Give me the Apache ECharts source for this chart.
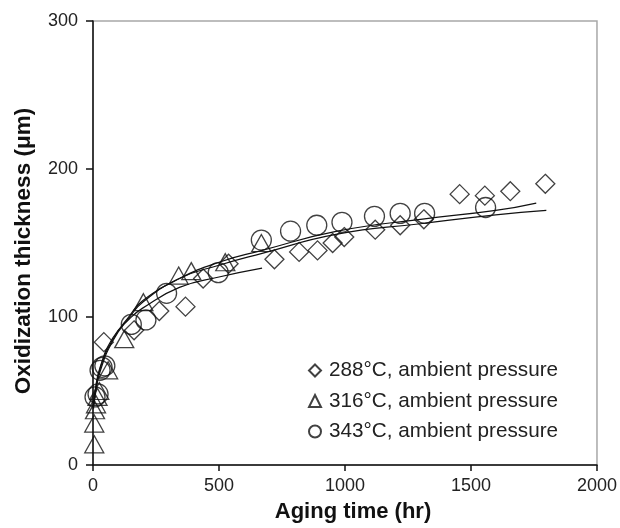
<!DOCTYPE html>
<html>
<head>
<meta charset="utf-8">
<script src="https://cdn.jsdelivr.net/npm/echarts@6/dist/echarts.min.js"></script>
<style>
html,body{margin:0;padding:0;background:#fff;}
#chart{width:620px;height:528px;}
</style>
</head>
<body>
<div id="chart"></div>
<script>
// ---- data ----
const xTicks = [0, 500, 1000, 1500, 2000];
const yTicks = [0, 100, 200, 300];

const names = ['288°C, ambient pressure', '316°C, ambient pressure', '343°C, ambient pressure'];

// 288°C measured points (diamonds)
const t288 = [43, 163, 263, 367, 437, 538, 720, 818, 891, 951, 997, 1120, 1219, 1313, 1455, 1555, 1656, 1795];
const d288 = [83, 91, 104, 107, 126, 136, 139, 144, 145, 150, 154, 159, 162, 166, 183, 182, 185, 190];

// 316°C measured points (triangles)
const t316 = [5, 5, 8, 12, 18, 25, 60, 124, 200, 340, 390, 525, 668];
const d316 = [14, 28, 37, 41, 46, 50, 64, 85, 110, 128, 131, 137, 150];

// 343°C measured points (circles)
const t343 = [8, 20, 28, 36, 47, 152, 210, 292, 497, 668, 784, 888, 988, 1117, 1219, 1316, 1558];
const d343 = [46, 48, 64, 66, 67, 95, 98, 116, 130, 152, 158, 162, 164, 168, 170, 170, 174];

// fitted curves
const fitAT = [2, 8, 28, 79, 146, 197, 343, 500, 671, 969, 1300, 1598, 1759];
const fitAY = [40, 48, 65, 85, 101, 111, 126, 137, 145, 158, 166, 172, 177];
const fitBT = [2, 8, 28, 79, 146, 197, 343, 500, 671, 969, 1300, 1598, 1799];
const fitBY = [38, 46, 63, 84, 100, 110, 126, 135, 143, 156, 163, 169, 172];
const fitCT = [2, 8, 28, 79, 146, 197, 343, 500, 671];
const fitCY = [42, 50, 66, 86, 99, 106, 120, 127, 133];

const zip = (a, b) => a.map((v, i) => [v, b[i]]);

const FONT = 'Liberation Sans, Arial, sans-serif';
const hollow = { color: 'rgba(255,255,255,0)', borderColor: '#111', borderWidth: 1.3 };
const fitLine = (name, t, y) => ({
  name: name, type: 'line', data: zip(t, y), smooth: true, symbol: 'none',
  lineStyle: { color: '#111', width: 1.2 }, z: 3, silent: true
});

const chart = echarts.init(document.getElementById('chart'), null, { renderer: 'canvas' });
chart.setOption({
  animation: false,
  backgroundColor: '#fff',
  grid: { left: 93, right: 20, top: 21, bottom: 61, show: true, borderColor: '#a8a8a8', borderWidth: 1.5, backgroundColor: 'transparent' },
  legend: {
    data: names,
    orient: 'vertical',
    left: 303, top: 355,
    itemWidth: 12, itemHeight: 12, itemGap: 9.5,
    textStyle: { fontFamily: FONT, fontSize: 20.7, color: '#222', padding: [0, 0, 0, 3] }
  },
  xAxis: {
    type: 'value', min: 0, max: 2000, interval: 500,
    name: 'Aging time (hr)', nameLocation: 'middle', nameGap: 36,
    nameTextStyle: { fontFamily: FONT, fontSize: 22, fontWeight: 'bold', color: '#111', padding: [0, 0, 0, 16] },
    axisLine: { lineStyle: { color: '#111', width: 1.5 } },
    axisTick: { show: true, length: 6, lineStyle: { color: '#111', width: 1.5 } },
    axisLabel: { fontFamily: FONT, fontSize: 18, color: '#222', margin: 12,
      formatter: v => xTicks.includes(v) ? String(v) : '' },
    splitLine: { show: false }
  },
  yAxis: {
    type: 'value', min: 0, max: 300, interval: 100,
    name: 'Oxidization thickness (μm)', nameLocation: 'middle', nameGap: 58,
    nameTextStyle: { fontFamily: FONT, fontSize: 22.5, fontWeight: 'bold', color: '#111', padding: [0, 16, 0, 0] },
    axisLine: { show: true, lineStyle: { color: '#111', width: 1.5 } },
    axisTick: { show: true, length: 7, lineStyle: { color: '#111', width: 1.5 } },
    axisLabel: { fontFamily: FONT, fontSize: 18, color: '#222', margin: 15,
      formatter: v => yTicks.includes(v) ? String(v) : '' },
    splitLine: { show: false }
  },
  series: [
    fitLine('fitA', fitAT, fitAY),
    fitLine('fitB', fitBT, fitBY),
    fitLine('fitC', fitCT, fitCY),
    { name: names[0], type: 'scatter', symbol: 'diamond', symbolSize: [19, 19], data: zip(t288, d288), itemStyle: hollow, z: 4 },
    { name: names[1], type: 'scatter', symbol: 'triangle', symbolSize: [19, 17], data: zip(t316, d316), itemStyle: hollow, z: 4 },
    { name: names[2], type: 'scatter', symbol: 'circle', symbolSize: 20, data: zip(t343, d343), itemStyle: hollow, z: 4 }
  ]
});
</script>
</body>
</html>
